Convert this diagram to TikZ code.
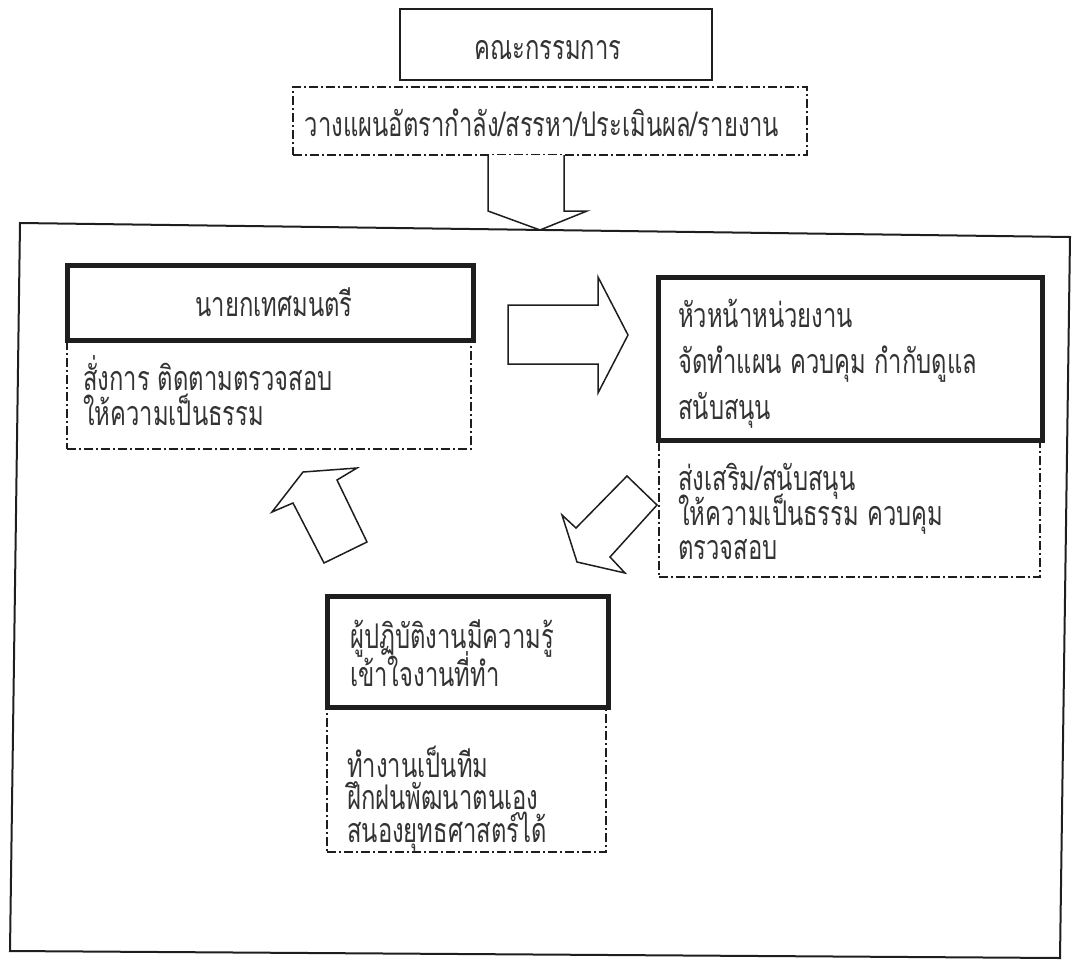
\documentclass[tikz,border=0pt]{standalone}
\usepackage{fontspec}
\newfontfamily\thaifont[Script=Thai, FakeStretch=0.7]{Loma}
\definecolor{ink}{HTML}{1E1E1E}
\definecolor{txt}{HTML}{333333}
\tikzset{
  framebox/.style={draw=ink, line width=2pt},
  headbox/.style={draw=ink, line width=1.6pt, rectangle, inner sep=0pt},
  thickbox/.style={draw=ink, line width=5pt, rectangle, inner sep=0pt},
  dotbox/.style={draw=ink, line width=1.4pt, rectangle, inner sep=0pt,
     dash pattern=on 9pt off 3pt on 2pt off 3pt},
  blockarrow/.style={draw=ink, line width=1.5pt, line join=miter, fill=white},
  ttext/.style={font=\thaifont\fontsize{34}{40}\selectfont, text=txt, inner sep=0pt},
}
\begin{document}
\begin{tikzpicture}[x=1pt,y=-1pt]
\useasboundingbox (0,0) rectangle (1078,961);
% outer frame
\draw[framebox] (20,223) -- (1070,237) -- (1060,958) -- (10,951) -- cycle;
% top boxes
\node[headbox, minimum width=312pt, minimum height=71pt] (board) at (556,44.5) {};
\node[dotbox, minimum width=514pt, minimum height=68pt] (plan) at (550,121) {};
\node[ttext, anchor=base] (boardt) at (548,59) {คณะกรรมการ};
\node[ttext, anchor=base] (plant) at (542,136) {วางแผนอัตรากำลัง/สรรหา/ประเมินผล/รายงาน};
% down arrow
\draw[blockarrow] (488,155) -- (488,211) -- (540,230) -- (587,211) -- (564,211) -- (564,155);
% mayor
\node[dotbox, minimum width=404pt, minimum height=109pt] (mayord) at (269,394.5) {};
\node[thickbox, minimum width=406pt, minimum height=75pt] (mayor) at (270,302.5) {};
\node[ttext, anchor=base] (mayort) at (274,316) {นายกเทศมนตรี};
\node[ttext, anchor=base west] (m1) at (83,390) {สั่งการ ติดตามตรวจสอบ};
\node[ttext, anchor=base west] (m2) at (83,425) {ให้ความเป็นธรรม};
% head of unit
\node[dotbox, minimum width=381pt, minimum height=137pt] (headd) at (849.5,508.5) {};
\node[thickbox, minimum width=384pt, minimum height=163pt] (head) at (850,358.5) {};
\node[ttext, anchor=base west] (h1) at (678,327) {หัวหน้าหน่วยงาน};
\node[ttext, anchor=base west] (h2) at (678,373) {จัดทำแผน ควบคุม กำกับดูแล};
\node[ttext, anchor=base west] (h3) at (678,419) {สนับสนุน};
\node[ttext, anchor=base west] (h4) at (678,490) {ส่งเสริม/สนับสนุน};
\node[ttext, anchor=base west] (h5) at (678,525) {ให้ความเป็นธรรม ควบคุม};
\node[ttext, anchor=base west] (h6) at (678,559) {ตรวจสอบ};
% staff
\node[dotbox, minimum width=279pt, minimum height=145pt] (staffd) at (466.5,779.5) {};
\node[thickbox, minimum width=281pt, minimum height=111pt] (staff) at (467.5,651.5) {};
\node[ttext, anchor=base west] (s1) at (350,648) {ผู้ปฏิบัติงานมีความรู้};
\node[ttext, anchor=base west] (s2) at (350,686) {เข้าใจงานที่ทำ};
\node[ttext, anchor=base west] (s3) at (347,777) {ทำงานเป็นทีม};
\node[ttext, anchor=base west] (s4) at (347,809) {ฝึกฝนพัฒนาตนเอง};
\node[ttext, anchor=base west] (s5) at (347,842) {สนองยุทธศาสตร์ได้};
% right arrow
\draw[blockarrow] (508,305) -- (598,305) -- (598,277) -- (628,335) -- (598,393) -- (598,364) -- (508,364) -- cycle;
% down-left arrow
\draw[blockarrow] (627,476) -- (576,528) -- (562,515) -- (577,562) -- (625,573) -- (610,557) -- (657,505) -- cycle;
% up-left arrow
\draw[blockarrow] (272,512) -- (303,472) -- (357,468) -- (337,480) -- (367,542) -- (324,563) -- (293,503) -- cycle;
\end{tikzpicture}
\end{document}
